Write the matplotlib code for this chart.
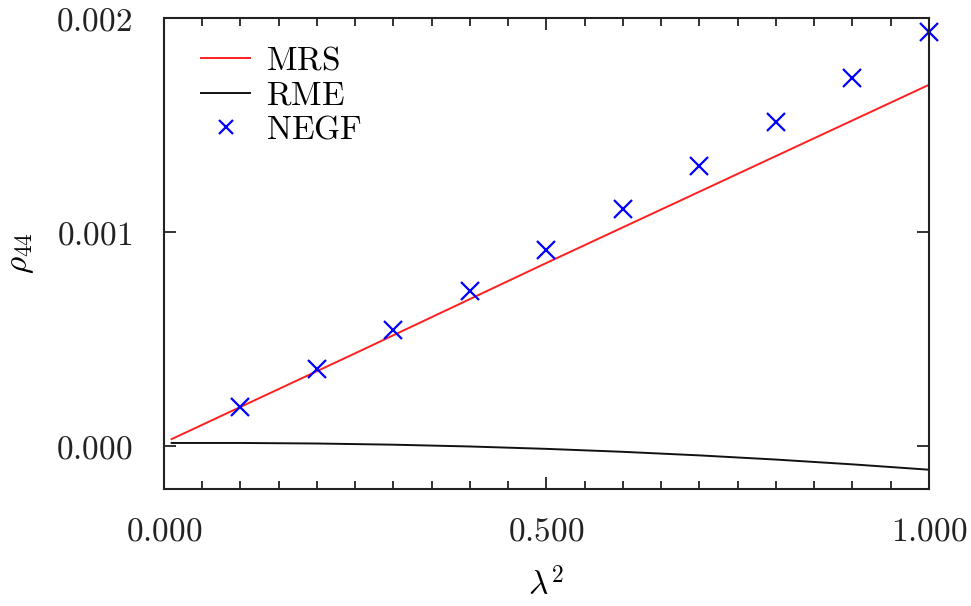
import numpy as np
import matplotlib
matplotlib.use("Agg")
import matplotlib.pyplot as plt
from matplotlib.ticker import MultipleLocator, FuncFormatter

# MRS line (straight)
mrs_x = [0.01, 0.25, 0.5, 0.75, 1.0]
mrs_y = [3.3e-5, 0.000434, 0.000856, 0.001272, 0.001688]

# RME curve
rme_x = [0.01, 0.1, 0.2, 0.3, 0.4, 0.5, 0.6, 0.7, 0.8, 0.9, 1.0]
rme_y = [1.5e-5, 1.5e-5, 1.24e-5, 6.9e-6, -1.5e-6, -1.26e-5,
         -2.64e-5, -4.31e-5, -6.26e-5, -8.5e-5, -1.1e-4]

# NEGF points
negf_x = [0.1, 0.2, 0.3, 0.4, 0.5, 0.6, 0.7, 0.8, 0.9, 1.0]
negf_y = [0.000185, 0.000359, 0.000541, 0.000727, 0.000914,
          0.00111, 0.00131, 0.001515, 0.001722, 0.001936]

plt.rcParams["mathtext.fontset"] = "cm"
plt.rcParams["font.family"] = "DejaVu Serif"

fig = plt.figure(figsize=(9.71, 6.06), dpi=100)
ax = fig.add_axes([0.1689, 0.1931, 0.9567 - 0.1689, 0.9703 - 0.1931])

ax.plot(mrs_x, mrs_y, color="#ff1f1f", lw=1.4, label=r"$\mathrm{MRS}$")
ax.plot(rme_x, rme_y, color="#111111", lw=1.4, label=r"$\mathrm{RME}$")
ax.plot(negf_x, negf_y, ls="none", marker="x", color="#0000ff", ms=13, mew=1.6,
        label=r"$\mathrm{NEGF}$", clip_on=False)

ax.set_xlim(0, 1.0)
ax.set_ylim(-0.0002, 0.002)

ax.xaxis.set_major_locator(MultipleLocator(0.5))
ax.xaxis.set_minor_locator(MultipleLocator(0.05))
ax.yaxis.set_major_locator(MultipleLocator(0.001))
ax.xaxis.set_major_formatter(FuncFormatter(lambda v, p: r"$%.3f$" % v))
ax.yaxis.set_major_formatter(FuncFormatter(lambda v, p: r"$%.3f$" % v))

ax.tick_params(which="both", direction="in", top=True, right=True,
               width=1.3, labelsize=24, colors="#222222")
ax.tick_params(axis="x", which="major", length=8.5, pad=19)
ax.tick_params(axis="x", which="minor", length=5.8)
ax.tick_params(axis="y", which="major", length=8.3, pad=23)
for s in ax.spines.values():
    s.set_linewidth(1.5)
    s.set_color("#222222")

ax.set_xlabel(r"$\lambda^2$", fontsize=24, labelpad=14)
ax.set_ylabel(r"$\rho_{44}$", fontsize=24, labelpad=14)

leg = ax.legend(loc="upper left", frameon=False, fontsize=24,
                handlelength=1.45, handletextpad=0.5, labelspacing=0.08,
                borderaxespad=0.4, bbox_to_anchor=(0.014, 1.0), markerscale=0.8)

fig.savefig("out.png", dpi=100)
